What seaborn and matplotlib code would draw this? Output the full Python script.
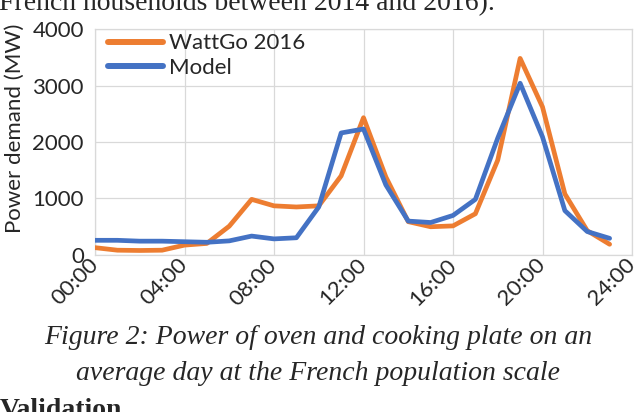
import numpy as np
import pandas as pd
import matplotlib
matplotlib.use("Agg")
import matplotlib.pyplot as plt
import seaborn as sns

# hourly values (MW)
hours = list(range(24))
wattgo = [130, 85, 80, 85, 175, 205, 510, 985, 870, 850, 870, 1400, 2430, 1380,
          590, 500, 515, 730, 1680, 3480, 2620, 1080, 430, 190]
model = [260, 260, 245, 245, 235, 225, 250, 335, 285, 305, 850, 2160, 2230, 1240,
         600, 575, 700, 985, 2070, 3040, 2090, 785, 415, 295]
series_names = ["WattGo 2016", "Model"]
tick_hours = [0, 4, 8, 12, 16, 20, 24]
tick_labels = ["00:00", "04:00", "08:00", "12:00", "16:00", "20:00", "24:00"]
y_ticks = [0, 1000, 2000, 3000, 4000]

df = pd.DataFrame({
    "hour": hours * 2,
    "power": wattgo + model,
    "serie": [series_names[0]] * len(hours) + [series_names[1]] * len(hours),
})

sns.set_style("white")
plt.rcParams["font.family"] = ["Lato", "DejaVu Sans"]

fig = plt.figure(figsize=(6.36, 4.12), dpi=100)
ax = fig.add_axes([95 / 636, 1 - 255 / 412, (632 - 95) / 636, (255 - 29) / 412])

sns.lineplot(data=df, x="hour", y="power", hue="serie", hue_order=series_names,
             palette=["#ED7D31", "#4472C4"], linewidth=3.4, ax=ax, zorder=3)

ax.set_xlim(0, 24)
ax.set_ylim(0, 4000)
ax.set_xticks(tick_hours)
ax.set_xticklabels(tick_labels, rotation=45, ha="right", va="center",
                   rotation_mode="anchor", fontsize=16)
ax.set_yticks(y_ticks)
ax.set_yticklabels([str(v) for v in y_ticks], fontsize=16)
ax.tick_params(length=0, pad=8)
ax.tick_params(axis="x", pad=5)
ax.grid(True, color="#d9d9d9", linewidth=0.9)
for s in ax.spines.values():
    s.set_color("#d9d9d9")
    s.set_linewidth(0.9)
ax.set_xlabel("")
ax.set_ylabel("Power demand (MW)", fontsize=16)
ax.yaxis.set_label_coords(-0.13, 0.56)

leg = ax.legend(loc="upper left", frameon=False, fontsize=16, handlelength=2.5,
                handletextpad=0.25, labelspacing=0.2, borderaxespad=0.0,
                bbox_to_anchor=(0.0075, 1.02))
for h in leg.get_lines():
    h.set_linewidth(4.3)

# surrounding paper text
fig.text(-0.002, 1 - 10 / 412, "French households between 2014 and 2016).",
         family="Liberation Serif", fontsize=20, va="baseline", ha="left")
fig.text(318 / 636, 1 - 337 / 412, "Figure 2: Power of oven and cooking plate on an",
         family="Liberation Serif", style="italic", fontsize=20, ha="center", va="center")
fig.text(318 / 636, 1 - 373 / 412, "average day at the French population scale",
         family="Liberation Serif", style="italic", fontsize=20, ha="center", va="center")
fig.text(0.0, 1 - 398 / 412, "Validation", family="Liberation Serif",
         weight="bold", fontsize=20, ha="left", va="top")

fig.savefig("out.png", dpi=100)
